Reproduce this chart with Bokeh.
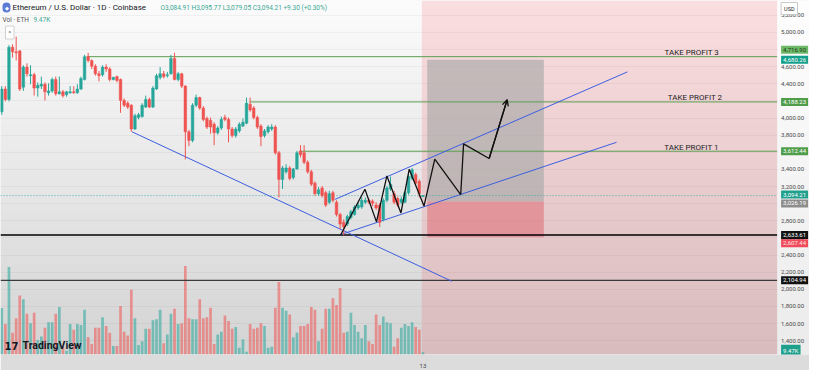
import numpy as np
from bokeh.plotting import figure
from bokeh.models import (Range1d, FixedTicker, NumeralTickFormatter, Label, Arrow,
                          OpenHead, BoxAnnotation, ColumnDataSource)
from bokeh.embed import file_html
from bokeh.resources import INLINE
from bokeh.core.properties import value

# ---------------- data (ETH/USD daily) ----------------
opens = [4073, 4339, 4217, 4828, 4773, 4784, 4361, 4595, 4495, 4506,
         4350, 4373, 4395, 4295, 4317, 4450, 4284, 4306, 4273, 4295,
         4306, 4295, 4339, 4450, 4717, 4673, 4606, 4517, 4506, 4595,
         4573, 4450, 4484, 4450, 4206, 4173, 4150, 3872, 4006, 4017,
         4128, 4217, 4128, 4339, 4473, 4517, 4495, 4517, 4695, 4450,
         4517, 4373, 3839, 3739, 4150, 4239, 4117, 3995, 3972, 3928,
         3828, 3883, 4006, 3984, 3872, 3795, 3850, 3906, 3939, 4162,
         4117, 4006, 3906, 3795, 3839, 3872, 3895, 3594, 3283, 3372,
         3417, 3306, 3406, 3616, 3594, 3483, 3372, 3239, 3116, 3183,
         3128, 3017, 3128, 3017, 2872, 2783, 2761, 2839, 2872, 2950,
         2961, 3017, 3039, 3028, 2983, 2983, 2817, 3039, 3172, 3116,
         3061, 3017, 3017, 3128, 3294, 3339, 3261, 3084.91]
closes = [4339, 4217, 4828, 4773, 4762, 4339, 4595, 4517, 4506, 4350,
          4384, 4395, 4306, 4317, 4450, 4284, 4306, 4262, 4306, 4306,
          4295, 4339, 4462, 4717, 4673, 4606, 4517, 4495, 4595, 4573,
          4450, 4473, 4439, 4206, 4150, 4128, 3872, 4028, 4039, 4150,
          4217, 4128, 4350, 4495, 4517, 4484, 4506, 4695, 4450, 4517,
          4373, 3839, 3739, 4150, 4239, 4117, 3984, 3895, 3895, 3828,
          3883, 3984, 3984, 3872, 3795, 3872, 3928, 3950, 4173, 4095,
          4006, 3895, 3784, 3850, 3895, 3895, 3594, 3283, 3417, 3417,
          3294, 3406, 3594, 3572, 3483, 3372, 3228, 3116, 3161, 3094,
          2983, 3116, 3039, 2872, 2761, 2728, 2850, 2905, 2961, 2983,
          3039, 3039, 3017, 3005, 2950, 2783, 3039, 3183, 3228, 3017,
          2983, 3050, 3128, 3317, 3395, 3239, 3116, 3094.21]
highs = [4373, 4373, 4851, 4862, 4951, 4795, 4617, 4639, 4617, 4528,
         4417, 4484, 4417, 4406, 4473, 4484, 4484, 4328, 4317, 4373,
         4373, 4395, 4484, 4739, 4762, 4684, 4628, 4550, 4617, 4628,
         4595, 4484, 4495, 4462, 4228, 4195, 4162, 4050, 4061, 4173,
         4262, 4239, 4373, 4517, 4595, 4550, 4539, 4739, 4762, 4539,
         4528, 4384, 3861, 4173, 4273, 4250, 4139, 4017, 4006, 3950,
         3906, 4017, 4039, 4006, 3895, 3895, 3950, 3995, 4239, 4239,
         4139, 4028, 3928, 3872, 3917, 3928, 3917, 3616, 3439, 3461,
         3439, 3417, 3616, 3683, 3683, 3506, 3395, 3261, 3194, 3206,
         3150, 3150, 3150, 3039, 2894, 2817, 2872, 2928, 2983, 3017,
         3072, 3072, 3061, 3050, 3017, 3005, 3061, 3206, 3317, 3150,
         3083, 3083, 3150, 3339, 3417, 3361, 3283, 3095.77]
lows = [4039, 4195, 4195, 4706, 4673, 4317, 4317, 4484, 4395, 4262,
        4250, 4339, 4206, 4262, 4295, 4262, 4273, 4239, 4250, 4284,
        4284, 4284, 4328, 4439, 4650, 4573, 4495, 4428, 4484, 4539,
        4428, 4439, 4417, 4061, 4128, 4106, 3839, 3861, 3984, 4006,
        4117, 4117, 4117, 4328, 4450, 4462, 4473, 4506, 4439, 4428,
        4350, 3517, 3672, 3717, 4128, 4095, 3961, 3872, 3817, 3683,
        3806, 3861, 3961, 3717, 3772, 3772, 3828, 3895, 3928, 4073,
        3984, 3872, 3672, 3772, 3817, 3850, 3572, 3072, 3172, 3350,
        3272, 3283, 3395, 3539, 3461, 3350, 3206, 3094, 3094, 3072,
        2961, 2994, 3017, 2850, 2705, 2630, 2739, 2817, 2861, 2928,
        2939, 2994, 2994, 2972, 2928, 2728, 2794, 3017, 3150, 2994,
        2961, 2994, 3005, 3105, 3272, 3217, 3072, 3079.05]
volumes_k = [200, 131, 377, 94, 156, 254, 238, 176, 135, 180,
             62, 78, 115, 139, 139, 176, 205, 33, 16, 131,
             107, 131, 127, 193, 74, 45, 115, 115, 160, 123,
             94, 37, 37, 209, 98, 82, 279, 156, 41, 57,
             111, 111, 148, 152, 193, 49, 86, 176, 197, 131,
             135, 381, 156, 152, 152, 238, 156, 160, 201, 45,
             86, 98, 168, 144, 111, 119, 29, 66, 12, 131,
             111, 115, 135, 123, 29, 33, 201, 312, 201, 189,
             172, 74, 94, 123, 123, 131, 205, 193, 57, 111,
             197, 197, 242, 213, 287, 94, 98, 180, 127, 98,
             70, 127, 57, 45, 172, 127, 164, 139, 135, 33,
             70, 115, 131, 123, 139, 119, 107, 9.47]

# take-profit levels and where they start (bar index)
tp_names = ["TAKE PROFIT 1", "TAKE PROFIT 2", "TAKE PROFIT 3"]
tp_levels = [3612.44, 4188.23, 4716.90]
tp_start_bar = [82.8, 68.9, 23.6]
tp_label_bar = [191.6, 192.6, 191.7]

# horizontal support lines and last price
support_levels = [2633.61, 2104.94]
support_colors = ["#000000", "#3a3a3a"]
support_widths = [1.3, 1.2]
last_price = 3094.21

# long-position tool
pos_bars = [118.2, 150.6]
pos_entry, pos_target, pos_stop = 3026.19, 4680.26, 2607.44
future_zone_start = 116.7

# trend lines (bar, price) -> (bar, price)
trend_x0 = [36.2, 92.6, 94.2]
trend_y0 = [3839, 3050, 2639]
trend_x1 = [125.0, 173.8, 170.8]
trend_y1 = [2094, 4539, 3717]

# zig-zag projection path
path_x = [94.1, 100.9, 104.1, 107.0, 110.9, 113.2, 117.3, 120.3, 127.5, 128.3, 135.4, 140.4]
path_y = [2631, 3169, 2787, 3324, 2891, 3402, 2972, 3520, 3105, 3698, 3528, 4214]

# price axis ticks / date label
price_ticks = list(range(1400, 5400, 200))
date_labels = {117: "13"}

# price-scale tags
tag_prices = [4716.90, 4680.26, 4188.23, 3612.44, 3094.21, 3026.19, 2633.61, 2607.44, 2104.94]
tag_bg = ["#6cb866", "#12a08c", "#4f9d4a", "#4f9d4a", "#1fa08d", "#8d8d8d", "#111111", "#ef4b5a", "#111111"]
tag_fg = ["#203a20", "white", "white", "white", "white", "white", "white", "#ffe5e8", "white"]
tag_dy = [7, 0, 0, 0, 1, -2, 0, -6, 0]

ohlc_text = "O3,084.91 H3,095.77 L3,079.05 C3,094.21 +9.30 (+0.30%)"

# ---------------- figure ----------------
N = len(closes)
idx = list(range(N))
UP, DN = "#26a69a", "#ef5350"
colors = [UP if c >= o else DN for o, c in zip(opens, closes)]

X0, XF = -0.35, 224.4        # full canvas width (chart + price scale)
AXIS_X = 215.4               # where the price scale begins
Y0, Y1 = 1238, 5373
VOL_TOP = 1525

p = figure(width=809, height=370, x_range=Range1d(X0, XF), y_range=Range1d(Y0, Y1),
           output_backend="svg", toolbar_location=None, y_axis_location="right",
           min_border_left=0, min_border_top=0, min_border_right=0, min_border_bottom=13)
p.extra_y_ranges = {"vol": Range1d(0, VOL_TOP)}
p.outline_line_color = None
p.background_fill_color = "#f3f3f3"
p.border_fill_color = "#dcdcdc"

# soft vertical background gradient
H = 200
g = np.linspace(212, 252, H).astype(np.uint8)
img = np.empty((H, 1), dtype=np.uint32)
v = img.view(dtype=np.uint8).reshape((H, 1, 4))
v[:, 0, 0] = g
v[:, 0, 1] = g
v[:, 0, 2] = g
v[:, 0, 3] = 255
p.image_rgba(image=[img], x=X0, y=Y0, dw=XF - X0, dh=Y1 - Y0, level="image")

# price-scale background and future zone
p.add_layout(BoxAnnotation(left=AXIS_X, fill_color="white", fill_alpha=0.55,
                           line_alpha=0, level="underlay"))
p.add_layout(BoxAnnotation(left=future_zone_start, right=AXIS_X, fill_color="#f23645",
                           fill_alpha=0.15, line_alpha=0, level="underlay"))

# volume
vsrc = ColumnDataSource(dict(x=idx, top=volumes_k, color=colors))
p.vbar(x="x", top="top", bottom=0, width=0.75, source=vsrc, y_range_name="vol",
       fill_color="color", fill_alpha=0.55, line_color=None)

# position zones
p.quad(left=[pos_bars[0]], right=[pos_bars[1]], bottom=[pos_entry], top=[pos_target],
       fill_color="#a9a9a9", fill_alpha=0.65, line_color=None)
p.quad(left=[pos_bars[0]], right=[pos_bars[1]], bottom=[pos_stop], top=[pos_entry],
       fill_color="#e06a74", fill_alpha=0.55, line_color=None)

# TP lines
p.segment(x0=tp_start_bar, y0=tp_levels, x1=[AXIS_X] * len(tp_levels), y1=tp_levels,
          line_color="#5b9e50", line_width=1)
p.text(x=tp_label_bar, y=tp_levels, text=tp_names, text_align="center",
       text_baseline="alphabetic", y_offset=-4, text_font=value("Roboto"),
       text_font_size="8px", text_color="#1e1e1e")

# last price (dotted) and support lines
p.segment(x0=[X0], y0=[last_price], x1=[AXIS_X], y1=[last_price], line_color="#26a69a",
          line_dash="1 2", line_width=1, line_alpha=0.8)
p.segment(x0=[X0] * 2, y0=support_levels, x1=[AXIS_X] * 2, y1=support_levels,
          line_color=support_colors, line_width=support_widths)

# trend lines
p.segment(x0=trend_x0, y0=trend_y0, x1=trend_x1, y1=trend_y1, line_color="#3d5ee1", line_width=1)

# candles
src = ColumnDataSource(dict(x=idx, h=highs, l=lows,
                            top=[max(o, c) for o, c in zip(opens, closes)],
                            bot=[min(o, c) for o, c in zip(opens, closes)],
                            color=colors))
p.segment(x0="x", y0="h", x1="x", y1="l", line_color="color", line_width=1, source=src)
p.vbar(x="x", top="top", bottom="bot", width=0.72, fill_color="color",
       line_color="color", line_width=0.5, source=src)

# projected zig-zag
p.line(path_x, path_y, line_color="#111111", line_width=1.3)
p.add_layout(Arrow(end=OpenHead(size=6, line_color="#111111", line_width=1.3),
                   x_start=path_x[-2], y_start=path_y[-2], x_end=path_x[-1], y_end=path_y[-1],
                   line_color="#111111", line_width=1.3))

# price axis drawn at the start of the price-scale column
yax = p.yaxis[0]
yax.fixed_location = AXIS_X
yax.ticker = FixedTicker(ticks=price_ticks)
yax.formatter = NumeralTickFormatter(format="0,0.00")
yax.major_label_text_font_size = "6px"
yax.major_label_text_font = "Roboto"
yax.major_label_text_color = "#4a4a4a"
yax.axis_line_color = None
yax.major_tick_line_color = None
yax.minor_tick_line_color = None
yax.major_tick_out = 0
yax.major_tick_in = 0
yax.major_label_standoff = 4

xax = p.xaxis[0]
xax.ticker = FixedTicker(ticks=list(date_labels.keys()))
xax.major_label_overrides = date_labels
xax.major_label_text_font_size = "6px"
xax.major_label_text_font = "Roboto"
xax.major_label_text_color = "#444444"
xax.axis_line_color = None
xax.major_tick_line_color = None
xax.minor_tick_line_color = None
xax.major_label_standoff = 3

p.xgrid.visible = False
p.ygrid.ticker = FixedTicker(ticks=price_ticks)
p.ygrid.grid_line_color = "#000000"
p.ygrid.grid_line_alpha = 0.04

# price-scale tags
for price, bg, fg, dy in zip(tag_prices, tag_bg, tag_fg, tag_dy):
    p.add_layout(Label(x=AXIS_X, y=price, x_offset=4, y_offset=dy, text=f"{price:,.2f}",
                       text_align="left", text_baseline="middle", text_font="Roboto",
                       text_font_size="6px", text_color=fg,
                       background_fill_color=bg, padding=2))
p.add_layout(Label(x=AXIS_X, y=volumes_k[-1], y_range_name="vol", x_offset=4, y_offset=2,
                   text=f"{volumes_k[-1]:.2f}K", text_align="left", text_baseline="middle",
                   text_font="Roboto", text_font_size="6px", text_color="white",
                   background_fill_color="#1fa08d", padding=2))
p.add_layout(Label(x=AXIS_X, y=Y1, x_offset=4, y_offset=-8, text="USD", text_align="left",
                   text_baseline="middle", text_font="Roboto", text_font_size="5.5px",
                   text_color="#222222", background_fill_color="white",
                   border_line_color="#c8c8c8", padding=3))

# header
p.add_layout(Label(x=X0, y=Y1, x_offset=2, y_offset=-7, text="\u25c6", text_align="left",
                   text_baseline="middle", text_font_size="5px", text_color="white",
                   background_fill_color="#5b7bd5", padding=2, border_radius=4))
p.add_layout(Label(x=X0, y=Y1, x_offset=12, y_offset=-7,
                   text="Ethereum / U.S. Dollar \u00b7 1D \u00b7 Coinbase",
                   text_align="left", text_baseline="middle", text_font="Roboto",
                   text_font_size="8px", text_color="#131722"))
p.add_layout(Label(x=X0, y=Y1, x_offset=160, y_offset=-7, text=ohlc_text,
                   text_align="left", text_baseline="middle", text_font="Roboto",
                   text_font_size="6.5px", text_color="#3aa893"))
p.add_layout(Label(x=X0, y=Y1, x_offset=2, y_offset=-19, text="Vol \u00b7 ETH",
                   text_align="left", text_baseline="middle", text_font="Roboto",
                   text_font_size="6.5px", text_color="#555555"))
p.add_layout(Label(x=X0, y=Y1, x_offset=33, y_offset=-19, text=f"{volumes_k[-1]:.2f}K",
                   text_align="left", text_baseline="middle", text_font="Roboto",
                   text_font_size="6.5px", text_color="#3aa893"))
p.add_layout(Label(x=X0, y=Y1, x_offset=5, y_offset=-32, text="^",
                   text_align="left", text_baseline="middle", text_font="Roboto",
                   text_font_size="6px", text_color="#333333", background_fill_color="white",
                   border_line_color="#d0d0d0", padding=3))

# TradingView logo
p.add_layout(Label(x=X0, y=Y0, x_offset=4, y_offset=9, text="17", text_align="left",
                   text_baseline="middle", text_font="DejaVu Sans", text_font_style="bold",
                   text_font_size="10px", text_color="#131722"))
p.add_layout(Label(x=X0, y=Y0, x_offset=22, y_offset=9, text="TradingView", text_align="left",
                   text_baseline="middle", text_font="Roboto", text_font_style="bold",
                   text_font_size="10.5px", text_color="#131722"))

open("out.html", "w").write(file_html(p, INLINE))
